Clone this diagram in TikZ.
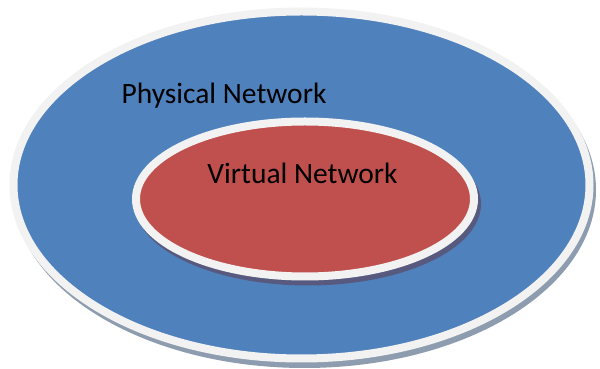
\documentclass[tikz,border=0pt]{standalone}
\usepackage{fontspec}
\setmainfont{Carlito}
\definecolor{netblue}{HTML}{4F81BD}
\definecolor{netred}{HTML}{C0504D}
\definecolor{rim}{HTML}{F2F2F2}
\definecolor{outershadow}{HTML}{8E9CAF}
\definecolor{innershadow}{HTML}{575A7E}
\begin{document}
\begin{tikzpicture}[x=1pt,y=1pt,
  rimline/.style={draw=rim,line width=8pt},
  label/.style={font=\fontsize{29.5}{32}\selectfont,text=black,anchor=base,inner sep=0pt}]
\useasboundingbox (0,0) rectangle (600,369);
% physical network: shadow, then body with light rim
\fill[outershadow] (304.5,179) ellipse [x radius=291.5, y radius=178];
\filldraw[fill=netblue,rimline] (301.5,184) ellipse [x radius=288, y radius=173.5];
% virtual network inside it
\fill[innershadow] (308,165) ellipse [x radius=173, y radius=81.5];
\filldraw[fill=netred,rimline] (305,170) ellipse [x radius=169, y radius=77.5];
\node[label] (phys) at (224,265) {Physical Network};
\node[label] (virt) at (302.5,185) {Virtual Network};
\end{tikzpicture}
\end{document}
